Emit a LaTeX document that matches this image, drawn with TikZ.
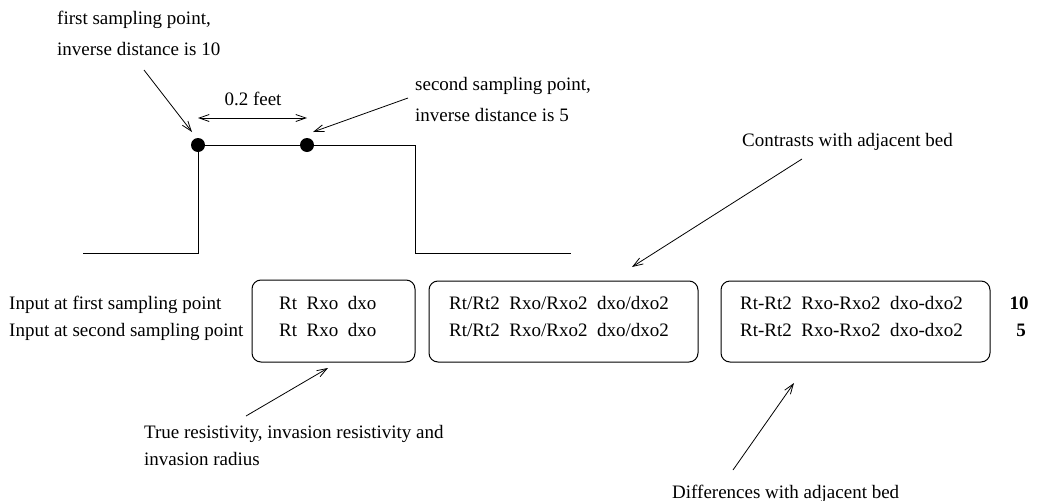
\documentclass[tikz,border=0pt]{standalone}
\usepackage{fontspec}
\setmainfont{Liberation Serif}
\usetikzlibrary{arrows.meta}
\tikzset{
  lbl/.style={inner sep=0pt, anchor=base west, font=\fontsize{19}{24}\selectfont},
  num/.style={inner sep=0pt, anchor=base, font=\fontsize{19}{24}\selectfont\bfseries},
  valbox/.style={draw, rounded corners=9pt, line width=1pt, inner sep=0pt},
  ptr/.style={line width=0.8pt, -{Straight Barb[length=10pt,width=7pt,line width=0.8pt]}},
  dim/.style={line width=0.8pt, {Straight Barb[length=10pt,width=7pt,line width=0.8pt]}-{Straight Barb[length=10pt,width=7pt,line width=0.8pt]}},
  profile/.style={line width=1pt},
  sample/.style={circle, fill=black, inner sep=0pt, minimum size=14pt}
}
\newcommand{\sep}{\hspace{0.5em}}
\begin{document}
\begin{tikzpicture}[x=1pt, y=-1pt]
\useasboundingbox (0,0) rectangle (1037,501);

% bed profile
\coordinate (p0) at (83,253);
\coordinate (p1) at (198,253);
\coordinate (p2) at (198,145);
\coordinate (p3) at (415,145);
\coordinate (p4) at (415,253);
\coordinate (p5) at (571,253);
\draw[profile] (p0) -- (p1) -- (p2) -- (p3) -- (p4) -- (p5);

% sampling points
\node[sample] (s1) at (p2) {};
\node[sample] (s2) at (307,145) {};

% spacing between the sampling points
\coordinate (d1) at (198,118);
\coordinate (d2) at (307,118);
\draw[dim] (d1) -- (d2);
\node[inner sep=0pt, anchor=base, font=\fontsize{19}{24}\selectfont] (feet) at (253,105) {0.2 feet};

% sampling point notes
\node[lbl] (t1a) at (57,24) {first sampling point,};
\node[lbl] (t1b) at (57,55) {inverse distance is 10};
\coordinate (a1s) at (144,70);
\coordinate (a1e) at (192,132);
\draw[ptr] (a1s) -- (a1e);

\node[lbl] (t2a) at (415,90) {second sampling point,};
\node[lbl] (t2b) at (415,121) {inverse distance is 5};
\coordinate (a2s) at (408,98);
\coordinate (a2e) at (313,132);
\draw[ptr] (a2s) -- (a2e);

% input rows
\node[lbl] (in1) at (9,309) {Input at first sampling point};
\node[lbl] (in2) at (9,336) {Input at second sampling point};

% value boxes
\node[valbox, minimum width=163pt, minimum height=82pt] (box1) at (333.5,321) {};
\node[valbox, minimum width=269pt, minimum height=81pt] (box2) at (563.5,321.5) {};
\node[valbox, minimum width=269pt, minimum height=81pt] (box3) at (855.5,321.5) {};

\node[lbl] (r1a) at (279,309) {Rt\sep Rxo\sep dxo};
\node[lbl] (r1b) at (279,336) {Rt\sep Rxo\sep dxo};
\node[lbl] (r2a) at (449,309) {Rt/Rt2\sep Rxo/Rxo2\sep dxo/dxo2};
\node[lbl] (r2b) at (449,336) {Rt/Rt2\sep Rxo/Rxo2\sep dxo/dxo2};
\node[lbl] (r3a) at (740,309) {Rt-Rt2\sep Rxo-Rxo2\sep dxo-dxo2};
\node[lbl] (r3b) at (740,336) {Rt-Rt2\sep Rxo-Rxo2\sep dxo-dxo2};

\node[num] (n10) at (1019,309) {10};
\node[num] (n5) at (1021,336) {5};

% box notes
\node[lbl] (c1) at (742,146) {Contrasts with adjacent bed};
\coordinate (a3s) at (802,159);
\coordinate (a3e) at (632,267);
\draw[ptr] (a3s) -- (a3e);

\node[lbl] (tr1) at (144,438) {True resistivity, invasion resistivity and};
\node[lbl] (tr2) at (144,465) {invasion radius};
\coordinate (a4s) at (246,416);
\coordinate (a4e) at (328,368);
\draw[ptr] (a4s) -- (a4e);

\node[lbl] (df) at (672,498) {Differences with adjacent bed};
\coordinate (a5s) at (733,470);
\coordinate (a5e) at (794,383);
\draw[ptr] (a5s) -- (a5e);
\end{tikzpicture}
\end{document}
